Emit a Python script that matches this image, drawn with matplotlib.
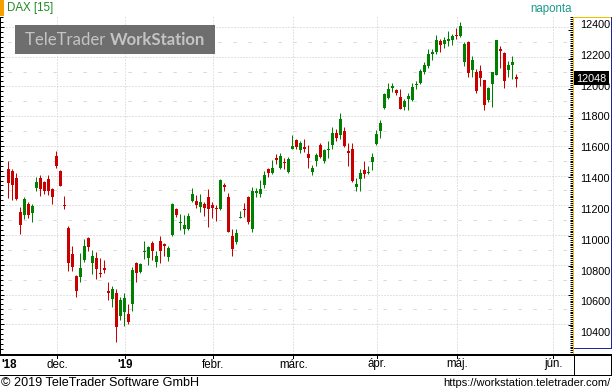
import matplotlib
matplotlib.use('Agg')
import matplotlib.pyplot as plt
import numpy as np
import pandas as pd
from matplotlib.lines import Line2D
from matplotlib.patches import Rectangle

W, H = 612, 392

# ---------------- data (DAX daily, 15 Nov 2018 - 23 May 2019) ----------------
opens = [11446, 11429, 11381, 11154, 11137, 11212, 11150, 11316, 11381, 11355,
         11375, 11312, 11530, 11429, 11199, 11050, 10875, 10726, 10715, 10830,
         10977, 10812, 10849, 10748, 10778, 10622, 10572, 10609, 10456, 10482,
         10467, 10534, 10810, 10754, 10884, 10843, 10947, 10817, 10960, 10940,
         10852, 11000, 11172, 11081, 11044, 11044, 11232, 11232, 11187, 11208,
         11258, 11200, 11180, 11174, 11336, 11258, 10992, 10953, 11118, 11174,
         11258, 11044, 11284, 11278, 11336, 11446, 11420, 11518, 11448, 11494,
         11427, 11582, 11641, 11569, 11589, 11543, 11427, 11498, 11608, 11498,
         11569, 11608, 11686, 11673, 11699, 11563, 11576, 11323, 11375, 11440,
         11420, 11492, 11615, 11699, 11855, 11920, 11991, 11978, 11926, 11861,
         11913, 11907, 12010, 12024, 12095, 12134, 12219, 12232, 12303, 12283,
         12303, 12309, 12348, 12342, 12167, 12296, 12108, 12095, 12102, 12043,
         11907, 12017, 12076, 12251, 12225, 12108, 12141, 12063]
highs = [11500, 11446, 11420, 11189, 11258, 11219, 11206, 11388, 11401, 11364,
         11401, 11318, 11563, 11439, 11264, 11063, 10927, 10728, 10882, 10972,
         10985, 10899, 10888, 10843, 10830, 10687, 10655, 10637, 10585, 10609,
         10536, 10784, 10817, 10812, 10960, 10929, 10960, 10890, 10992, 10949,
         10927, 11215, 11180, 11141, 11135, 11148, 11319, 11271, 11278, 11219,
         11310, 11219, 11204, 11375, 11349, 11284, 11044, 11038, 11161, 11213,
         11265, 11323, 11317, 11368, 11433, 11453, 11505, 11543, 11550, 11517,
         11524, 11673, 11647, 11630, 11647, 11608, 11468, 11550, 11617, 11582,
         11634, 11725, 11712, 11822, 11725, 11621, 11621, 11381, 11446, 11498,
         11466, 11550, 11706, 11777, 11958, 12023, 12023, 11984, 11984, 11913,
         11958, 12023, 12033, 12117, 12162, 12251, 12251, 12348, 12316, 12335,
         12374, 12355, 12394, 12433, 12296, 12303, 12206, 12115, 12141, 12043,
         11998, 12095, 12309, 12270, 12232, 12173, 12206, 12082]
lows = [11251, 11234, 11234, 11007, 11111, 11117, 11091, 11299, 11266, 11279,
        11271, 11206, 11452, 11327, 11176, 10761, 10758, 10585, 10681, 10817,
        10890, 10737, 10702, 10715, 10748, 10566, 10514, 10281, 10430, 10391,
        10404, 10488, 10683, 10748, 10838, 10800, 10830, 10787, 10810, 10862,
        10826, 10994, 11124, 11031, 11005, 11031, 11219, 11180, 11154, 11128,
        11051, 11115, 11096, 11167, 11297, 11018, 10862, 10940, 11118, 11122,
        11077, 11018, 11258, 11258, 11317, 11388, 11414, 11479, 11442, 11442,
        11420, 11578, 11582, 11550, 11561, 11453, 11401, 11466, 11517, 11485,
        11517, 11578, 11634, 11647, 11595, 11466, 11355, 11297, 11297, 11381,
        11414, 11440, 11608, 11654, 11848, 11913, 11965, 11945, 11848, 11842,
        11842, 11900, 11981, 12017, 12082, 12121, 12180, 12219, 12232, 12257,
        12270, 12277, 12322, 12335, 12134, 12063, 12063, 11953, 12004, 11842,
        11894, 11862, 12076, 12121, 11992, 12063, 12050, 11998]
closes = [11351, 11338, 11243, 11065, 11245, 11137, 11193, 11355, 11312, 11299,
          11299, 11258, 11465, 11333, 11195, 10812, 10786, 10624, 10778, 10927,
          10923, 10862, 10774, 10741, 10767, 10611, 10635, 10384, 10560, 10577,
          10415, 10765, 10748, 10804, 10895, 10919, 10891, 10856, 10890, 10929,
          10916, 11207, 11137, 11090, 11070, 11128, 11278, 11204, 11219, 11180,
          11174, 11180, 11174, 11368, 11323, 11018, 10908, 11012, 11124, 11167,
          11090, 11297, 11297, 11310, 11401, 11420, 11453, 11505, 11535, 11485,
          11511, 11600, 11589, 11621, 11582, 11517, 11453, 11541, 11524, 11569,
          11582, 11686, 11654, 11783, 11602, 11550, 11362, 11342, 11420, 11414,
          11427, 11524, 11680, 11751, 11952, 11984, 12004, 11958, 11848, 11900,
          11933, 11997, 12017, 12102, 12147, 12219, 12232, 12309, 12277, 12309,
          12322, 12342, 12342, 12407, 12283, 12089, 12180, 11972, 12056, 11875,
          11992, 12095, 12309, 12238, 12037, 12141, 12167, 12048]

holidays = ['2018-12-24', '2018-12-25', '2018-12-26', '2018-12-31',
            '2019-01-01', '2019-04-19', '2019-04-22', '2019-05-01']
month_labels = ["'18", 'dec.', "'19", 'febr.', 'márc.', 'ápr.', 'máj.', 'jún.']
y_ticks = [10400, 10600, 10800, 11000, 11200, 11400, 11600, 11800, 12000, 12200, 12400]
last_price = 12048
title = 'DAX [15]'
period = 'naponta'

# ---------------- helpers ----------------
dates = pd.bdate_range('2018-11-15', '2019-05-23')
dates = dates[~dates.isin(pd.to_datetime(holidays))]
n = len(opens)
idx = np.arange(n)

fig = plt.figure(figsize=(W / 100, H / 100), dpi=100)
fig.patch.set_facecolor('white')

def fx(px):
    return px / W

def fy(py):
    return 1 - py / H

PX = 0.72  # points per pixel at 100 dpi

FONT = 'Liberation Sans'
GREEN = '#008000'
RED = '#c80000'

# main axes
ax_left, ax_right, ax_top, ax_bot = 0, 573, 17, 354
ax = fig.add_axes([fx(ax_left), fy(ax_bot), fx(ax_right - ax_left), (ax_bot - ax_top) / H])
ax.set_facecolor('white')

x0_px, step_px = 8.3, 4.0
ax.set_xlim((ax_left - x0_px) / step_px, (ax_right - x0_px) / step_px)
def v_at(py):
    return 11600 - (py - 147.3) / 0.15417
ax.set_ylim(v_at(ax_bot), v_at(ax_top))

# grid
for v in y_ticks:
    ax.axhline(v, color='#c8c8c8', lw=1 * PX, ls=(0, (1, 2)), zorder=0)
for v in [t + 100 for t in y_ticks[:-1]]:
    ax.axhline(v, color='#d9d9d9', lw=1 * PX, ls=(7, (3.3, 11.7)), zorder=0)

month_idx = []
prev = None
for i, d in enumerate(dates):
    if prev is not None and d.month != prev:
        month_idx.append(i)
    prev = d.month
month_idx.append(136)  # June (projected)
for m in month_idx:
    ax.axvline(m + 0.25, color='#c8c8c8', lw=1 * PX, ls=(0, (1, 2)), zorder=0)

# candles
o = np.array(opens, float); c = np.array(closes, float)
h = np.array(highs, float); l = np.array(lows, float)
cols = np.where(c >= o, GREEN, RED)
ax.vlines(idx, l, h, colors=cols, lw=1 * PX, zorder=2)
bottom = np.minimum(o, c)
height = np.maximum(np.abs(c - o), 6.0)
ax.bar(idx, height, bottom=bottom, width=0.75, color=cols, linewidth=0, zorder=3)

# spines / ticks
for s in ['top', 'bottom']:
    ax.spines[s].set_visible(False)
ax.spines['left'].set_color('black')
ax.spines['left'].set_linewidth(1 * PX)
ax.spines['right'].set_color('#f0c000')
ax.spines['right'].set_linewidth(1 * PX)
ax.set_xticks([])
ax.set_yticks(y_ticks)
ax.set_yticks(np.arange(10200, 12500, 200 / 6), minor=True)
ax.tick_params(axis='y', which='both', direction='in', left=True, right=False,
               labelleft=False, labelright=False, color='black')
ax.tick_params(axis='y', which='major', length=4 * PX, width=1 * PX)
ax.tick_params(axis='y', which='minor', length=3 * PX, width=1 * PX)

ax2 = ax.twinx()
ax2.set_ylim(ax.get_ylim())
for s in ['top', 'bottom', 'left']:
    ax2.spines[s].set_visible(False)
ax2.spines['right'].set_color('#f0c000')
ax2.spines['right'].set_linewidth(1 * PX)
ax2.set_yticks(y_ticks)
ax2.set_yticks(np.arange(10200, 12500, 12.5), minor=True)
ax2.tick_params(axis='y', which='both', direction='in', color='black', labelright=False)
ax2.tick_params(axis='y', which='major', length=5 * PX, width=1 * PX)
ax2.tick_params(axis='y', which='minor', length=3 * PX, width=1 * PX)

LBL_FS = 7.8
for v in y_ticks:
    py = 147.3 + (11600 - v) * 0.15417
    fig.text(fx(580), fy(py + 1), str(v), fontsize=LBL_FS, family=FONT,
             color='black', ha='left', va='center')

py_last = 147.3 + (11600 - last_price) * 0.15417
fig.patches.append(Rectangle((fx(574), fy(py_last + 7)), fx(35), 14 / H,
                             transform=fig.transFigure, facecolor='black',
                             edgecolor='none', zorder=5))
fig.text(fx(576.5), fy(py_last + 0.5), f'{last_price}', fontsize=LBL_FS, family=FONT,
         color='white', ha='left', va='center', zorder=6)

def fline(x1, y1, x2, y2, color, lw=1):
    fig.add_artist(Line2D([fx(x1), fx(x2)], [fy(y1), fy(y2)], color=color,
                          lw=lw * PX, transform=fig.transFigure, zorder=4))

fline(573.5, 17, 610.5, 17, '#f0c000')
fline(610.5, 17, 610.5, 348, '#1a2a9a')
fline(573.5, 348, 610.5, 348, '#1a2a9a')

fline(0, 354.5, 611, 354.5, 'black', 2)
fline(0, 374.5, 611, 374.5, 'black', 1)
fline(573.5, 354, 573.5, 375, 'black', 1)
fline(611, 354, 611, 375, 'black', 1)

label_pos = [9] + [m + 0.25 for m in month_idx]
for i, (lab, m) in enumerate(zip(month_labels, label_pos)):
    if i == 0:
        px = 9
    else:
        px = x0_px + step_px * m
        fline(px, 355, px, 358, 'black', 1)
    bold = lab.startswith("'")
    fig.text(fx(px), fy(364.5), lab, fontsize=8.3, family=FONT,
             fontweight='bold' if bold else 'normal', color='black',
             ha='center', va='center')

# header
fig.patches.append(Rectangle((0, fy(16)), fx(4), 16 / H, transform=fig.transFigure,
                             facecolor='#f5a000', edgecolor='none'))
fig.text(fx(7), fy(8.5), title, fontsize=8.3, family=FONT, color='#1e8c1e',
         ha='left', va='center')
fig.text(fx(572), fy(9), period, fontsize=8.3, family=FONT, color='#1a9a8a',
         ha='right', va='center')

# watermark (fit text to the box)
fig.patches.append(Rectangle((fx(15), fy(54)), fx(200), 29 / H, transform=fig.transFigure,
                             facecolor='#6e6e6e', edgecolor='none', zorder=4))
WM_FONT = 'Lato'
fs = 13.0
r = fig.canvas.get_renderer()
t1 = fig.text(fx(25), fy(40), 'TeleTrader ', fontsize=fs, family=WM_FONT,
              color='#c4c4c4', ha='left', va='center', zorder=5)
t2 = fig.text(0, fy(40), 'WorkStation', fontsize=fs, family=WM_FONT,
              fontweight='bold', color='#c4c4c4', ha='left', va='center', zorder=5)
w_total = t1.get_window_extent(r).width + t2.get_window_extent(r).width
fs = fs * 181.0 / w_total
t1.set_fontsize(fs); t2.set_fontsize(fs)
bb = t1.get_window_extent(r)
t2.set_x(bb.x1 / W)

# footer
fig.text(fx(1), fy(383), '© 2019 TeleTrader Software GmbH', fontsize=9.1, family=FONT,
         color='black', ha='left', va='center')
fig.text(fx(610), fy(383.5), 'https://workstation.teletrader.com/', fontsize=8.0,
         family=FONT, color='black', ha='right', va='center')

fig.savefig('out.png', dpi=100, facecolor='white')
